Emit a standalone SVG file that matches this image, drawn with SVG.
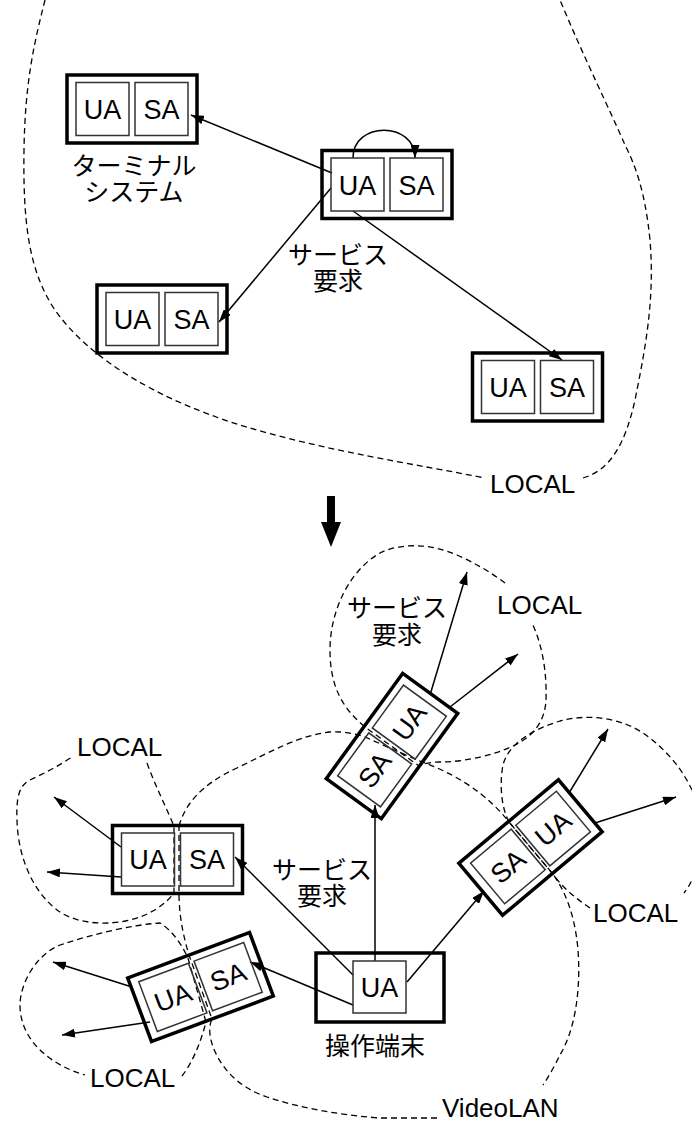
<svg xmlns="http://www.w3.org/2000/svg" width="692" height="1124" viewBox="0 0 692 1124">
<defs>
<style>
.d{fill:none;stroke:#000;stroke-width:1.3;stroke-dasharray:6 4}
.c{fill:none;stroke:#000;stroke-width:1.5;marker-end:url(#ah)}
.ob{fill:none;stroke:#000;stroke-width:3.5}
.ib{fill:none;stroke:#333;stroke-width:1.5}
.t{font-family:"Liberation Sans",Arial,sans-serif;font-size:27px;fill:#000;text-anchor:middle}
.lb{font-family:"Liberation Sans",Arial,sans-serif;font-size:26px;fill:#000}
.j{font-family:"Liberation Sans","Noto Sans CJK JP",sans-serif;font-size:25px;fill:#000;text-anchor:middle}
</style>
<marker id="ah" viewBox="0 0 13 9" refX="13" refY="4.5" markerWidth="13" markerHeight="9" markerUnits="userSpaceOnUse" orient="auto"><path d="M0,0 L13,4.5 L0,9 z" fill="#000"/></marker>
<g id="box2">
<rect class="ob" x="-65" y="-34" width="130" height="68"/>
<rect class="ib" x="-56" y="-26.5" width="53" height="53"/>
<rect class="ib" x="3" y="-26.5" width="53" height="53"/>
</g>
</defs>
<rect width="692" height="1124" fill="#fff"/>

<g id="regions">
<path class="d" d="M45,0 C35,40 25,80 24,150 C23,220 28,270 55,310 C90,360 160,400 240,425 C320,450 420,465 485,478"/>
<path class="d" d="M583,478 C610,470 625,445 635,400 C645,350 655,300 650,240 C645,190 635,165 625,145 C610,110 585,60 560,0"/>
<path class="d" d="M505,583 C492,573 475,563 457,555 C430,543 400,543 380,553 C350,570 330,610 330,650 C330,690 345,710 365,727 L419,766 C423,764 430,762 440,762 C465,762 495,755 515,745 C535,735 545,720 546,700 C547,665 540,640 532,623"/>
<path class="d" d="M179,826 C185,805 200,785 237,768 C270,752 300,735 330,732 C345,731 355,734 365,737 L417,760 C440,768 480,785 509,822 L552,873 C565,890 575,915 578,950 C581,990 575,1030 560,1055 C555,1065 548,1078 543,1085"/>
<path class="d" d="M437,1118 L380,1118 C340,1115 300,1108 267,1097 C240,1088 222,1070 213,1047 C210,1038 208,1028 212,1019 L189,955 C183,935 179,915 179,893 L179,826"/>
<path class="d" d="M509,822 C500,805 500,780 503,765 C508,745 530,730 560,721 C590,713 625,718 650,738 C675,758 690,780 700,810 C705,850 695,880 684,893"/>
<path class="d" d="M590,908 C575,898 562,887 552,873 L509,822"/>
<path class="d" d="M147,763 C155,785 165,805 174,826 L174,893 C165,905 150,915 130,920 C110,925 80,925 60,912 C35,895 18,860 17,820 C16,795 20,785 30,780 C45,773 60,765 72,757"/>
<path class="d" d="M182,1076 C192,1063 200,1045 206,1022 L188,958 C182,945 172,930 160,923 C130,925 90,935 60,945 C35,955 20,985 20,1005 C20,1040 50,1065 85,1075"/>
</g>

<g id="connectors">
<path class="c" d="M332,173 L191,115"/>
<path class="c" d="M331,188 L219,322"/>
<path class="c" d="M353,211 L562,360"/>
<path class="c" d="M353,158 C353,121 415,121 415,158"/>
<path class="c" d="M375,961 L375,805"/>
<path class="c" d="M353,975 L235,857"/>
<path class="c" d="M353,1005 L250,962"/>
<path class="c" d="M407,982 L484,891"/>
<path class="c" d="M430,695 L467,572"/>
<path class="c" d="M450,707 L518,654"/>
<path class="c" d="M569,793 L608,729"/>
<path class="c" d="M595,823 L676,797"/>
<path class="c" d="M121,847 L54,797"/>
<path class="c" d="M121,877 L47,872"/>
<path class="c" d="M132,987 L53,962"/>
<path class="c" d="M150,1022 L62,1035"/>
</g>

<g id="terminal1">
<use href="#box2" transform="translate(132,109)"/>
<text class="t" x="102.5" y="119">UA</text><text class="t" x="161.5" y="119">SA</text>
<text class="j" x="134" y="175"><tspan x="134">ターミナル</tspan><tspan x="134" dy="26">システム</tspan></text>
</g>
<g id="terminal-center">
<use href="#box2" transform="translate(387,184.5)"/>
<text class="t" x="357.5" y="194.5">UA</text><text class="t" x="416.5" y="194.5">SA</text>
</g>
<g id="terminal2">
<use href="#box2" transform="translate(162,319)"/>
<text class="t" x="132.5" y="329">UA</text><text class="t" x="191.5" y="329">SA</text>
</g>
<g id="terminal3">
<use href="#box2" transform="translate(537.5,387)"/>
<text class="t" x="508" y="397">UA</text><text class="t" x="567" y="397">SA</text>
</g>
<g id="label-top">
<text class="j" x="338" y="264"><tspan x="338">サービス</tspan><tspan x="338" dy="26">要求</tspan></text>
<text class="lb" x="490" y="493">LOCAL</text>
</g>

<g id="big-arrow">
<rect x="327" y="496" width="8" height="27" fill="#000"/>
<polygon points="321,522 341,522 331,547" fill="#000"/>
</g>

<g id="node-top" transform="translate(392,746) rotate(-54)">
<use href="#box2"/>
<text class="t" x="-29.5" y="9.5">SA</text><text class="t" x="29.5" y="9.5">UA</text>
</g>
<g id="node-right" transform="translate(530.5,847.5) rotate(-40)">
<use href="#box2"/>
<text class="t" x="-29.5" y="9.5">SA</text><text class="t" x="29.5" y="9.5">UA</text>
</g>
<g id="node-left">
<use href="#box2" transform="translate(177.5,859.5)"/>
<text class="t" x="148" y="869">UA</text><text class="t" x="207" y="869">SA</text>
</g>
<g id="node-lowerleft" transform="translate(200.5,987) rotate(-20.5)">
<use href="#box2"/>
<text class="t" x="-29.5" y="9.5">UA</text><text class="t" x="29.5" y="9.5">SA</text>
</g>
<g id="operator">
<rect class="ob" x="316" y="953" width="128" height="69"/>
<rect class="ib" x="353" y="961" width="53" height="52"/>
<text class="t" x="379.5" y="996.5">UA</text>
<text class="j" x="375" y="1055">操作端末</text>
</g>

<g id="labels-bottom">
<text class="j" x="397" y="617"><tspan x="397">サービス</tspan><tspan x="397" dy="27">要求</tspan></text>
<text class="j" x="322" y="879"><tspan x="322">サービス</tspan><tspan x="322" dy="26">要求</tspan></text>
<text class="lb" x="497" y="614">LOCAL</text>
<text class="lb" x="77" y="756">LOCAL</text>
<text class="lb" x="593" y="922">LOCAL</text>
<text class="lb" x="90" y="1087">LOCAL</text>
<text class="lb" x="442" y="1117">VideoLAN</text>
</g>
</svg>
